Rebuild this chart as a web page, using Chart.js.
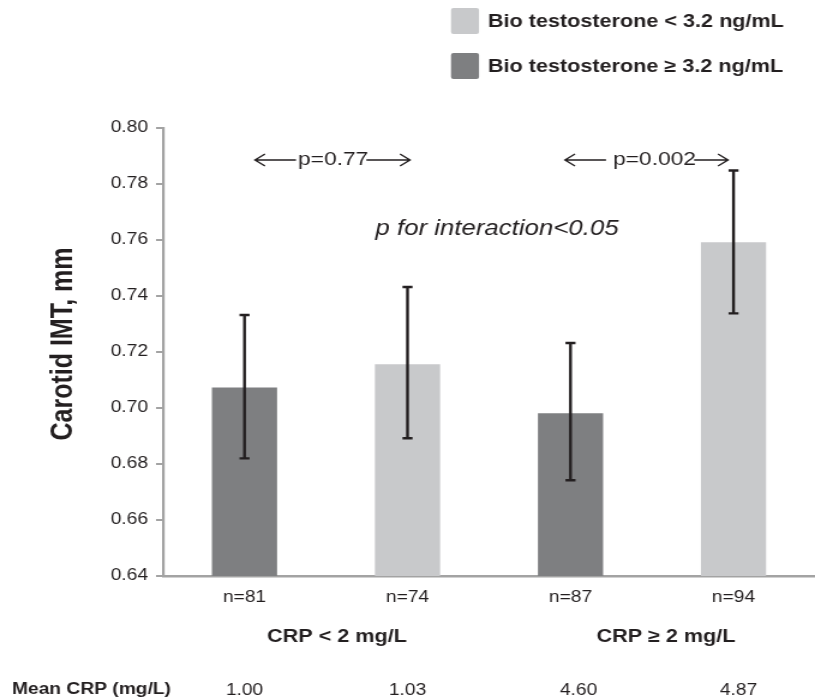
<!DOCTYPE html>
<html><head><meta charset="utf-8">
<script src="https://cdn.jsdelivr.net/npm/chart.js@4"></script>
<style>
html,body{margin:0;padding:0;background:#fff;overflow:hidden}
#wrap{width:679px;height:698px;transform:scaleX(1.20029);transform-origin:0 0}
</style>
</head><body>
<div id="wrap"><canvas id="c" width="679" height="698"></canvas></div>
<script>
// ---- data ----
const groupLabels = ['CRP < 2 mg/L', 'CRP \u2265 2 mg/L'];
const nLabels = ['n=81', 'n=74', 'n=87', 'n=94'];
const seriesNames = ['Bio testosterone < 3.2 ng/mL', 'Bio testosterone \u2265 3.2 ng/mL'];
const lowBT = [null, 0.7156, null, 0.7592];   // Bio T < 3.2
const highBT = [0.7073, null, 0.6981, null];  // Bio T >= 3.2
const errLow = [0.6820, 0.6892, 0.6742, 0.7338];
const errHigh = [0.7332, 0.7432, 0.7232, 0.7848];
const meanCRP = ['1.00', '1.03', '4.60', '4.87'];
const pValues = ['p=0.77', 'p=0.002'];
const interactionText = 'p for interaction<0.05';
const yTitle = 'Carotid IMT, mm';
const meanLabel = 'Mean CRP (mg/L)';
const yMin = 0.64, yMax = 0.80, yStep = 0.02;

const S = 815 / 679;            // horizontal stretch of the figure
const X = v => v / S;            // figure px -> canvas px (horizontal)
const LIGHT = '#c8c9cb', DARK = '#7e7f81', INK = '#231f20', AXIS = '#a3a3a3';
const FONT = "'Liberation Sans', Arial, sans-serif";

const overlay = {
  id: 'overlay',
  afterDatasetsDraw(chart) {
    const ctx = chart.ctx, x = chart.scales.x, y = chart.scales.y;
    ctx.save();
    ctx.strokeStyle = INK; ctx.lineWidth = 2.4;
    errLow.forEach((lo, i) => {
      const px = x.getPixelForValue(i);
      const y1 = y.getPixelForValue(lo), y2 = y.getPixelForValue(errHigh[i]);
      const cw = X(5);
      ctx.beginPath();
      ctx.moveTo(px, y1); ctx.lineTo(px, y2);
      ctx.moveTo(px - cw, y1); ctx.lineTo(px + cw, y1);
      ctx.moveTo(px - cw, y2); ctx.lineTo(px + cw, y2);
      ctx.stroke();
    });
    ctx.restore();
  },
  afterDraw(chart) {
    const ctx = chart.ctx, x = chart.scales.x, y = chart.scales.y;
    const cx = i => x.getPixelForValue(i);
    ctx.save();
    ctx.fillStyle = INK; ctx.textBaseline = 'middle';
    // y-axis title
    ctx.save();
    ctx.translate(X(72), (y.top + y.bottom) / 2 - 8);
    ctx.rotate(-Math.PI / 2);
    ctx.textAlign = 'center'; ctx.textBaseline = 'alphabetic';
    ctx.font = 'bold 25px ' + FONT;
    ctx.fillText(yTitle, 0, 0);
    ctx.restore();
    // legend
    const legendColors = [LIGHT, DARK];
    seriesNames.forEach((s, i) => {
      const top = 8 + i * 45;
      ctx.fillStyle = legendColors[i];
      ctx.beginPath(); ctx.roundRect(X(451), top, X(28), 26, 2); ctx.fill();
      ctx.fillStyle = INK; ctx.textAlign = 'left';
      ctx.font = 'bold 18px ' + FONT;
      ctx.fillText(s, X(488), top + 14);
    });
    // p-value arrows
    const arrowY = 160;
    const drawArrowGroup = (tipL, shaftL, txtX, tipR, txt) => {
      ctx.font = '19px ' + FONT; ctx.textAlign = 'left'; ctx.fillStyle = INK;
      ctx.fillText(txt, X(txtX), arrowY);
      const tEnd = X(txtX) + ctx.measureText(txt).width - X(2);
      ctx.strokeStyle = INK; ctx.lineWidth = 1.4;
      ctx.beginPath();
      ctx.moveTo(X(tipL), arrowY); ctx.lineTo(X(shaftL), arrowY);
      ctx.moveTo(X(tipL + 10), arrowY - 6); ctx.lineTo(X(tipL), arrowY); ctx.lineTo(X(tipL + 10), arrowY + 6);
      ctx.moveTo(tEnd, arrowY); ctx.lineTo(X(tipR), arrowY);
      ctx.moveTo(X(tipR - 10), arrowY - 6); ctx.lineTo(X(tipR), arrowY); ctx.lineTo(X(tipR - 10), arrowY + 6);
      ctx.stroke();
    };
    drawArrowGroup(255, 296, 298, 410, pValues[0]);
    drawArrowGroup(565, 606, 613, 728, pValues[1]);
    // interaction text
    ctx.font = 'italic 21.5px ' + FONT; ctx.textAlign = 'center';
    ctx.fillText(interactionText, X(497), 229);
    // group labels
    ctx.font = 'bold 18px ' + FONT;
    ctx.fillText(groupLabels[0], (cx(0) + cx(1)) / 2 + X(11), 637);
    ctx.fillText(groupLabels[1], (cx(2) + cx(3)) / 2 + X(14), 637);
    // mean CRP row
    ctx.textAlign = 'left';
    ctx.font = 'bold 16px ' + FONT;
    ctx.fillText(meanLabel, X(12), 690);
    ctx.font = '16px ' + FONT; ctx.textAlign = 'center';
    const shift = [0, 0, 8, 5];
    meanCRP.forEach((v, i) => ctx.fillText(v, cx(i) + X(shift[i]), 691));
    ctx.restore();
  }
};

new Chart(document.getElementById('c'), {
  type: 'bar',
  data: {
    labels: nLabels,
    datasets: [
      { label: seriesNames[0], data: lowBT, backgroundColor: LIGHT },
      { label: seriesNames[1], data: highBT, backgroundColor: DARK }
    ]
  },
  options: {
    responsive: false,
    animation: false,
    grouped: false,
    barPercentage: 0.4,
    categoryPercentage: 1.0,
    layout: { padding: { left: 0, top: 128, right: -3.3, bottom: 0 } },
    plugins: { legend: { display: false }, tooltip: { enabled: false } },
    scales: {
      x: {
        type: 'category',
        grid: { display: false, drawTicks: false },
        border: { display: true, color: AXIS, width: 2.5 },
        ticks: { color: INK, font: { family: FONT, size: 16 }, padding: 12 },
        afterFit(s) { s.height = 122; }
      },
      y: {
        min: yMin, max: yMax,
        grid: { display: true, drawOnChartArea: false, drawTicks: true, tickLength: X(7), color: AXIS, lineWidth: 2 },
        border: { display: true, color: AXIS, width: 2.2 },
        ticks: { stepSize: yStep, color: INK, font: { family: FONT, size: 16 }, padding: X(8),
                 callback: v => v.toFixed(2) },
        afterFit(s) { s.width = X(163); }
      }
    }
  },
  plugins: [overlay]
});
</script>
</body></html>
